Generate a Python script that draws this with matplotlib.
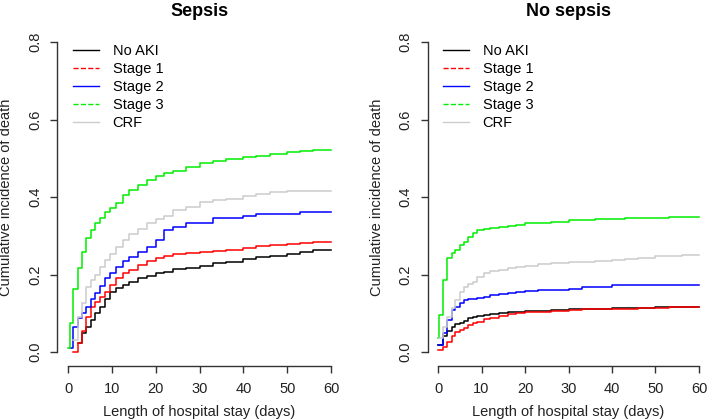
import numpy as np
import matplotlib
matplotlib.use("Agg")
from matplotlib import pyplot
from matplotlib.lines import Line2D

pyplot.rcParams["font.family"] = ["Liberation Sans", "DejaVu Sans"]

nan = np.nan

# Legend entries
labels = ["No AKI", "Stage 1", "Stage 2", "Stage 3", "CRF"]
colors = ["black", "red", "blue", "#00ee00", "#cccccc"]
legend_styles = ["-", "--", "-", "--", "-"]

# Sepsis panel (step points)
sep_days = [0, 0.5, 1.2, 2.3, 3.2, 4.2, 5.2, 6.2, 7.3, 8.5, 9.6, 11, 12.5, 14, 16,
            18, 20, 22, 24, 27, 30, 33, 36, 40, 43, 46, 50, 53, 56, 60]
sep_noaki = [nan, nan, nan, 0.023, 0.049, 0.065, 0.083, 0.1, 0.117, 0.138, 0.155, 0.165,
             0.172, 0.181, 0.19, 0.197, 0.203, 0.207, 0.213, 0.218, 0.222, 0.229, 0.232,
             0.24, 0.244, 0.247, 0.252, 0.258, 0.263, 0.263]
sep_stage1 = [nan, nan, 0.0, 0.023, 0.055, 0.09, 0.115, 0.13, 0.143, 0.155, 0.173, 0.19,
              0.203, 0.212, 0.225, 0.235, 0.243, 0.247, 0.252, 0.255, 0.257, 0.26, 0.264,
              0.268, 0.274, 0.276, 0.278, 0.282, 0.284, 0.284]
sep_stage2 = [nan, 0.01, 0.065, 0.088, 0.1, 0.117, 0.138, 0.152, 0.17, 0.19, 0.205, 0.22,
              0.235, 0.245, 0.258, 0.272, 0.289, 0.315, 0.322, 0.333, 0.333, 0.346, 0.346,
              0.351, 0.356, 0.356, 0.356, 0.361, 0.361, 0.361]
sep_stage3 = [0.01, 0.075, 0.163, 0.217, 0.258, 0.294, 0.315, 0.333, 0.346, 0.361, 0.372,
              0.385, 0.405, 0.418, 0.432, 0.443, 0.455, 0.462, 0.468, 0.478, 0.487, 0.492,
              0.497, 0.503, 0.507, 0.511, 0.516, 0.52, 0.521, 0.521]
sep_crf = [nan, nan, 0.03, 0.09, 0.126, 0.168, 0.185, 0.2, 0.219, 0.238, 0.252, 0.27, 0.29,
           0.305, 0.318, 0.333, 0.342, 0.352, 0.366, 0.374, 0.386, 0.392, 0.395, 0.402,
           0.408, 0.413, 0.416, 0.416, 0.416, 0.416]

# No sepsis panel
nos_days = [0, 0.3, 1.2, 2.1, 3.1, 4, 5, 6, 7, 8, 9, 10.5, 12, 14, 16, 18, 20, 23, 26,
            30, 33, 36, 40, 43, 46, 50, 53, 56, 60]
nos_noaki = [0.018, 0.018, 0.04, 0.053, 0.065, 0.071, 0.076, 0.08, 0.087, 0.09, 0.093,
             0.096, 0.098, 0.1, 0.102, 0.104, 0.105, 0.106, 0.108, 0.11, 0.111, 0.112,
             0.113, 0.114, 0.114, 0.115, 0.115, 0.116, 0.116]
nos_stage1 = [0.005, 0.005, 0.013, 0.026, 0.04, 0.052, 0.058, 0.062, 0.07, 0.075, 0.078,
              0.085, 0.088, 0.093, 0.097, 0.1, 0.102, 0.104, 0.106, 0.108, 0.11, 0.11,
              0.111, 0.112, 0.113, 0.113, 0.115, 0.116, 0.117]
nos_stage2 = [0.018, 0.018, 0.049, 0.083, 0.108, 0.116, 0.126, 0.134, 0.136, 0.138, 0.14,
              0.142, 0.146, 0.149, 0.152, 0.155, 0.158, 0.16, 0.161, 0.162, 0.168, 0.168,
              0.172, 0.172, 0.172, 0.172, 0.172, 0.172, 0.172]
nos_stage3 = [0.036, 0.095, 0.186, 0.242, 0.255, 0.264, 0.276, 0.284, 0.297, 0.307, 0.315,
              0.318, 0.32, 0.323, 0.326, 0.328, 0.332, 0.334, 0.336, 0.34, 0.341, 0.342,
              0.343, 0.345, 0.346, 0.347, 0.348, 0.348, 0.349]
nos_crf = [nan, 0.036, 0.065, 0.09, 0.113, 0.134, 0.155, 0.168, 0.175, 0.181, 0.194, 0.203,
           0.208, 0.212, 0.217, 0.22, 0.222, 0.226, 0.229, 0.232, 0.233, 0.236, 0.237,
           0.24, 0.242, 0.248, 0.249, 0.25, 0.25]

panels = [
    ("Sepsis", sep_days, [sep_noaki, sep_stage1, sep_stage2, sep_stage3, sep_crf]),
    ("No sepsis", nos_days, [nos_noaki, nos_stage1, nos_stage2, nos_stage3, nos_crf]),
]

xticks = [0, 10, 20, 30, 40, 50, 60]
yticks = [0.0, 0.2, 0.4, 0.6, 0.8]
ytick_labels = ["0.0", "0.2", "0.4", "0.6", "0.8"]

figure = pyplot.figure(figsize=(7.09, 4.20), dpi=100)
axes_pos = [[0.0811, 0.1324, 0.4006, 0.797], [0.6031, 0.1324, 0.3975, 0.797]]
axis_color = "#333333"

for pos, (title, days, series) in zip(axes_pos, panels):
    ax = figure.add_axes(pos)
    for vals, col in zip(series, colors):
        ax.step(days, vals, where="post", color=col, linewidth=1.1)

    ax.set_xlim(-2.4, 62.4)
    ax.set_ylim(-0.032, 0.832)
    for side in ["top", "right"]:
        ax.spines[side].set_visible(False)
    ax.spines["left"].set_bounds(0, 0.8)
    ax.spines["bottom"].set_bounds(0, 60)
    for side in ["left", "bottom"]:
        ax.spines[side].set_color(axis_color)
        ax.spines[side].set_linewidth(1.0)
    ax.spines["bottom"].set_position(("outward", 1.5))

    ax.set_xticks(xticks)
    ax.set_yticks(yticks)
    ax.set_yticklabels(ytick_labels)
    ax.tick_params(axis="both", length=5, width=1.0, color=axis_color,
                   labelsize=10.5, labelcolor="#222222", pad=6)
    ax.tick_params(axis="y", labelrotation=90)
    for lab in ax.get_yticklabels():
        lab.set_va("center")

    ax.set_xlabel("Length of hospital stay (days)", fontsize=10.5, color="#222222",
                  labelpad=7)
    ax.set_ylabel("Cumulative incidence of death", fontsize=10.5, color="#222222")
    ax.yaxis.set_label_coords(-0.155, 0.5)
    ax.set_title(title, fontsize=13, fontweight="bold", pad=10)

    handles = [Line2D([], [], color=c, linestyle=s, linewidth=1.0)
               for c, s in zip(colors, legend_styles)]
    ax.legend(handles, labels, loc="upper left", bbox_to_anchor=(0.053, 0.958),
              frameon=False, fontsize=10.5, borderpad=0, borderaxespad=0,
              handlelength=1.8, handletextpad=0.95, labelspacing=0.28)

pyplot.savefig("out.png", dpi=100)
